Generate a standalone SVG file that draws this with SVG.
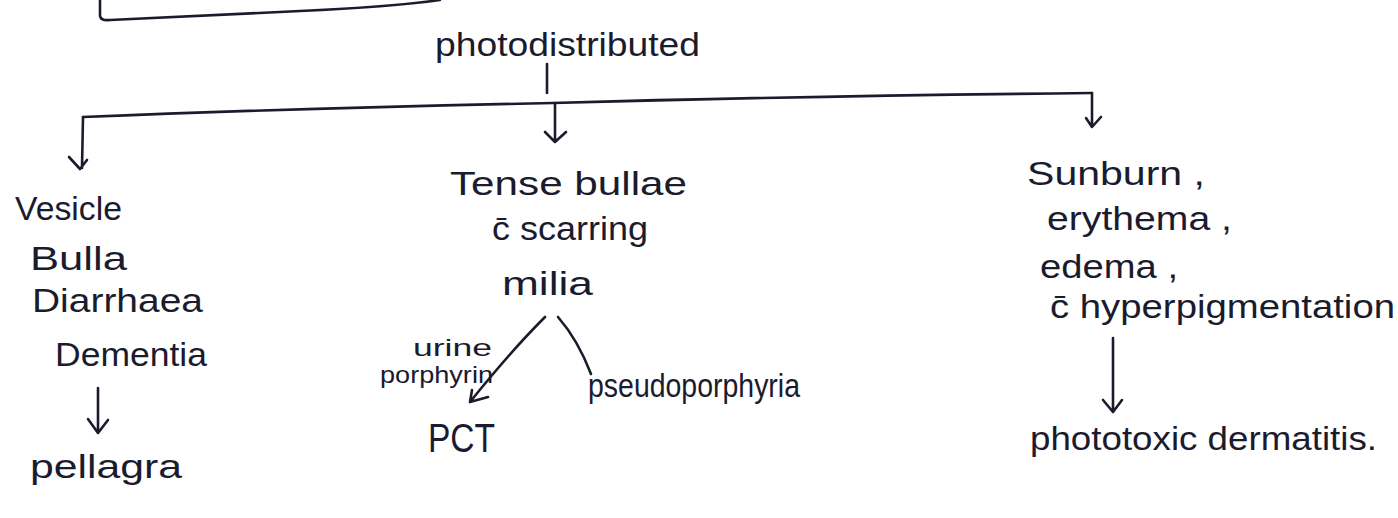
<svg xmlns="http://www.w3.org/2000/svg" width="1398" height="518" viewBox="0 0 1398 518">
<style>
.t{font-family:"Liberation Sans","DejaVu Sans",sans-serif;fill:#1b1b2e;font-size:34px}
.s{font-size:24px}
.big{font-size:40px}
.ln{fill:none;stroke:#1b1b2e;stroke-width:2.6;stroke-linecap:round;stroke-linejoin:round}
</style>
<rect width="1398" height="518" fill="#ffffff"/>
<g id="top-box">
<path class="ln" d="M100,0 L100,16 Q101,21 110,20 L300,11 Q390,7 440,0"/>
</g>
<g id="root"><text class="t" x="435" y="56" textLength="265" lengthAdjust="spacingAndGlyphs">photodistributed</text></g>
<g id="connectors">
<path class="ln" d="M547,64 L547,93"/>
<path class="ln" d="M83,117 Q300,108 553,103 Q800,96 1092,93"/>
<path class="ln" d="M83,117 L82,168 M69,157 L80,169 L87,160"/>
<path class="ln" d="M555,103 L555,140 M545,132 L555,142 L566,132"/>
<path class="ln" d="M1092,93 L1092,126 M1086,118 L1092,127 L1101,117"/>
<path class="ln" d="M98,388 L98,432 M88,419 L98,433 L108,420"/>
<path class="ln" d="M545,317 Q510,352 470,402 M470,402 L488,397 M470,402 L472,390"/>
<path class="ln" d="M558,317 Q578,340 591,374"/>
<path class="ln" d="M1113,338 L1113,411 M1103,400 L1113,412 L1122,400"/>
</g>
<g id="left">
<text class="t" x="15" y="220" textLength="107" lengthAdjust="spacingAndGlyphs">Vesicle</text>
<text class="t" x="30" y="270" textLength="97" lengthAdjust="spacingAndGlyphs">Bulla</text>
<text class="t" x="32" y="312" textLength="171" lengthAdjust="spacingAndGlyphs">Diarrhaea</text>
<text class="t" x="55" y="366" textLength="152" lengthAdjust="spacingAndGlyphs">Dementia</text>
</g>
<g id="pellagra"><text class="t" x="30" y="478" textLength="152" lengthAdjust="spacingAndGlyphs">pellagra</text></g>
<g id="middle">
<text class="t" x="450" y="195" textLength="237" lengthAdjust="spacingAndGlyphs">Tense bullae</text>
<text class="t" x="492" y="240" textLength="156" lengthAdjust="spacingAndGlyphs">c̄ scarring</text>
<text class="t" x="502" y="295" textLength="91" lengthAdjust="spacingAndGlyphs">milia</text>
</g>
<g id="urine-label">
<text class="t s" x="413" y="356" textLength="79" lengthAdjust="spacingAndGlyphs">urine</text>
<text class="t s" x="380" y="383" textLength="113" lengthAdjust="spacingAndGlyphs">porphyrin</text>
</g>
<g id="pct"><text class="t big" x="428" y="452" textLength="67" lengthAdjust="spacingAndGlyphs">PCT</text></g>
<g id="pseudo"><text class="t" x="588" y="397" textLength="212" lengthAdjust="spacingAndGlyphs">pseudoporphyria</text></g>
<g id="right">
<text class="t" x="1027" y="185" textLength="178" lengthAdjust="spacingAndGlyphs">Sunburn ,</text>
<text class="t" x="1047" y="230" textLength="185" lengthAdjust="spacingAndGlyphs">erythema ,</text>
<text class="t" x="1040" y="278" textLength="138" lengthAdjust="spacingAndGlyphs">edema ,</text>
<text class="t" x="1050" y="318" textLength="345" lengthAdjust="spacingAndGlyphs">c̄  hyperpigmentation</text>
</g>
<g id="phototoxic"><text class="t" x="1030" y="450" textLength="347" lengthAdjust="spacingAndGlyphs">phototoxic dermatitis.</text></g>
</svg>
